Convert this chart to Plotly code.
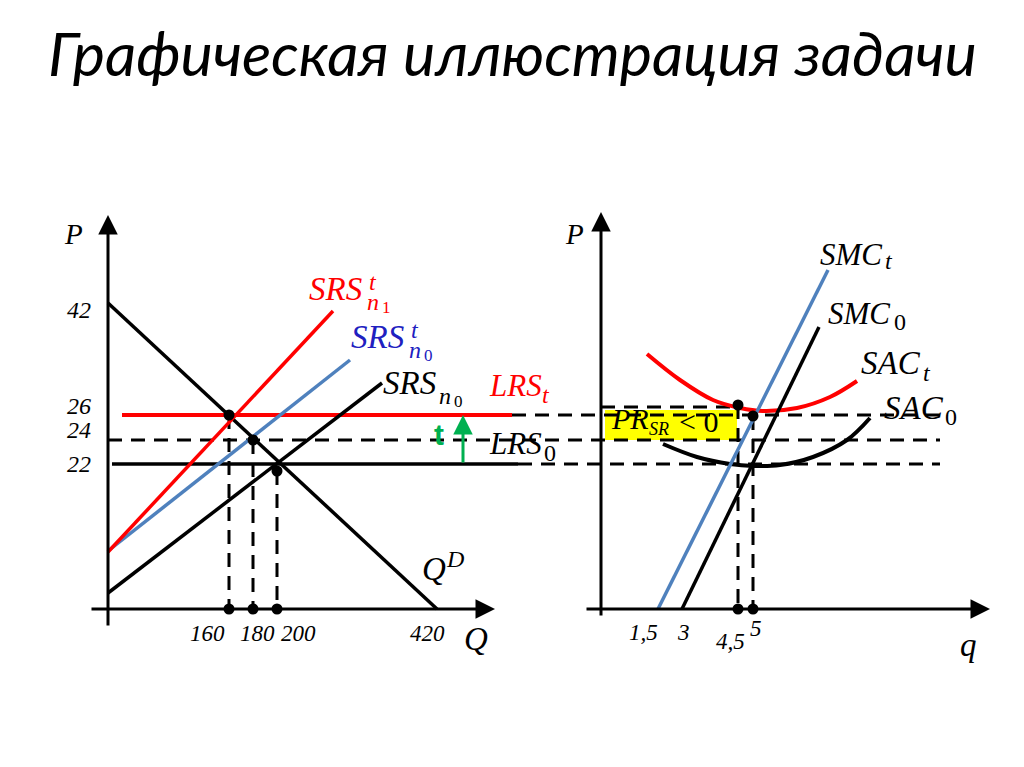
import plotly.graph_objects as go

# schematic diagram units: left panel origin at (0, 0), right panel origin at (R0, 0)
R0 = 493

# shared price axis
p_labels = ["42", "26", "24", "22"]
p_levels = [306, 194, 169, 145]
p_sac_min = 202

# left panel: industry
q_labels = ["160", "180", "200", "420"]
q_levels = [121, 145, 169, 329]
eq_dot_y = [194, 169, 138]

demand_x = [0, 329]
demand_y = [306, 0]
srs_n0_x = [0, 274]
srs_n0_y = [16, 226]
srs_t_n0_x = [0, 242]
srs_t_n0_y = [58, 249]
srs_t_n1_x = [0, 225]
srs_t_n1_y = [57, 298]
lrs_t_x = [14, 404]
lrs_0_x = [4, 410]

# right panel: firm (x relative to R0)
qf_labels = ["1,5", "3", "4,5", "5"]
qf_levels = [57, 81, 137, 152]
smc_t_x = [57, 227]
smc_t_y = [0, 339]
smc_0_x = [81, 218]
smc_0_y = [0, 282]
sac_t_x = [46, 79, 112, 139, 162, 196, 229, 256]
sac_t_y = [255, 229, 209, 201, 198, 201, 212, 228]
sac_0_x = [62, 96, 129, 152, 179, 212, 246, 269]
sac_0_y = [165, 152, 145, 143, 144, 152, 169, 191]
firm_dot_y = [204, 193]
dash_end = 339

RED = "#ff0000"
BLUE = "#4f81bd"
TXT_BLUE = "#2020c0"
GREEN = "#00b050"
DASH = "14px,9px"
SERIF = "Liberation Serif"
BASE = 33
SUB = 24
SUB2 = 17

fig = go.Figure()


def rx(xs):
    return [R0 + v for v in xs]


def line(x, y, color="black", width=3.5, dash=None, shape="linear"):
    fig.add_trace(go.Scatter(x=x, y=y, mode="lines", hoverinfo="skip",
                             line=dict(color=color, width=width, dash=dash, shape=shape)))


def dots(x, y):
    fig.add_trace(go.Scatter(x=x, y=y, mode="markers", hoverinfo="skip",
                             marker=dict(color="black", size=11)))


def arrow(x0, y0, x1, y1, color="black", width=3):
    fig.add_annotation(x=x1, y=y1, ax=x0, ay=y0, xref="x", yref="y", axref="x", ayref="y",
                       text="", showarrow=True, arrowhead=2, arrowsize=1.3,
                       arrowwidth=width, arrowcolor=color, standoff=0)


def text(x, y, s, size=BASE, color="black", anchor="left", family=SERIF):
    fig.add_annotation(x=x, y=y, text=s, showarrow=False, xanchor=anchor, yanchor="middle",
                       font=dict(family=family, size=size, color=color))


# yellow highlight of the short-run loss
fig.add_shape(type="rect", x0=R0 + 4, x1=R0 + qf_levels[2] - 1, y0=p_levels[2], y1=p_levels[1] + 5,
              fillcolor="#ffff00", line=dict(width=0), layer="below")

# dashed price levels running across both panels
line([lrs_t_x[1], R0 + dash_end], [p_levels[1]] * 2, width=3, dash=DASH)
line([0, R0 + dash_end], [p_levels[2]] * 2, width=3, dash=DASH)
line([lrs_0_x[1], R0 + dash_end], [p_levels[3]] * 2, width=3, dash=DASH)
line([R0, R0 + qf_levels[2]], [p_sac_min] * 2, width=3, dash=DASH)

# left panel
for q, y in zip(q_levels[:3], eq_dot_y):
    line([q, q], [y, 0], width=3, dash=DASH)
line(lrs_t_x, [p_levels[1]] * 2, color=RED, width=4)
line(lrs_0_x, [p_levels[3]] * 2, width=3.5)
line(demand_x, demand_y)
line(srs_n0_x, srs_n0_y)
line(srs_t_n0_x, srs_t_n0_y, color=BLUE)
line(srs_t_n1_x, srs_t_n1_y, color=RED)
dots(q_levels[:3] + q_levels[:3], eq_dot_y + [0, 0, 0])

# right panel
for q, y in zip(qf_levels[2:], firm_dot_y):
    line([R0 + q, R0 + q], [y, 0], width=3, dash=DASH)
line(rx(sac_t_x), sac_t_y, color=RED, width=4, shape="spline")
line(rx(sac_0_x), sac_0_y, width=4, shape="spline")
line(rx(smc_t_x), smc_t_y, color=BLUE)
line(rx(smc_0_x), smc_0_y)
dots(rx(qf_levels[2:]) * 2, firm_dot_y + [0, 0])

# axes
arrow(0, -18, 0, 394)
arrow(-18, 0, 387, 0)
arrow(R0, -8, R0, 397)
arrow(R0 - 16, 0, R0 + 389, 0)

# tax arrow
arrow(355, p_levels[3], 355, p_levels[1], color=GREEN, width=3)
text(331, 175, "<b>t</b>", size=30, color=GREEN, anchor="center", family="Liberation Sans")

# tick labels
for lab, y in zip(p_labels, [299, 203, 179, 145]):
    text(-15, y, "<i>%s</i>" % lab, size=24, anchor="right")
q_nudge = [(-2, "right"), (4, "center"), (2, "left"), (10, "right")]
for lab, q, (dx, anc) in zip(q_labels, q_levels, q_nudge):
    text(q + dx, -24, "<i>%s</i>" % lab, size=23, anchor=anc)
qf_nudge = [(2, "right", -23), (1, "center", -23), (9, "right", -32), (-5, "left", -19)]
for lab, q, (dx, anc, y) in zip(qf_labels, qf_levels, qf_nudge):
    text(R0 + q + dx, y, "<i>%s</i>" % lab, size=23, anchor=anc)

# axis names
text(-46, 375, "<i>P</i>", size=29)
text(354, -30, "<i>Q</i>", size=33)
text(R0 - 38, 375, "<i>P</i>", size=29)
text(R0 + 357, -36, "<i>q</i>", size=33)

# curve labels: base, superscript, subscript
text(199, 320, "<i>SRS</i>", color=RED)
text(259, 327, "<i>t</i>", size=SUB, color=RED)
text(257, 307, "<i>n</i>", size=SUB, color=RED)
text(272, 302, "1", size=SUB2, color=RED)
text(241, 272, "<i>SRS</i>", color=TXT_BLUE)
text(301, 279, "<i>t</i>", size=SUB, color=TXT_BLUE)
text(299, 259, "<i>n</i>", size=SUB, color=TXT_BLUE)
text(314, 254, "0", size=SUB2, color=TXT_BLUE)
text(273, 226, "<i>SRS</i>")
text(329, 213, "<i>n</i>", size=SUB)
text(344, 208, "0", size=SUB2)
text(379, 224, "<i>LRS</i>", size=31, color=RED)
text(432, 214, "<i>t</i>", size=SUB, color=RED)
text(379, 166, "<i>LRS</i>", size=31)
text(434, 156, "0", size=SUB)
text(312, 40, "<i>Q</i>")
text(336, 50, "<i>D</i>", size=SUB)

text(R0 + 217, 355, "<i>SMC</i>", size=31)
text(R0 + 282, 348, "<i>t</i>", size=SUB)
text(R0 + 225, 296, "<i>SMC</i>", size=31)
text(R0 + 291, 287, "0", size=SUB)
text(R0 + 258, 246, "<i>SAC</i>")
text(R0 + 320, 236, "<i>t</i>", size=SUB)
text(R0 + 281, 201, "<i>SAC</i>")
text(R0 + 342, 192, "0", size=SUB)
text(R0 + 8, 191, "<i>PR</i>", size=30)
text(R0 + 46, 180, "<i>SR</i>", size=18)
text(R0 + 76, 188, "&lt; 0", size=30)

# title
text(404, 557, "<i>Графическая иллюстрация задачи</i>", size=61, anchor="center", family="Lato")

fig.update_layout(
    width=1024, height=767, margin=dict(l=0, r=0, t=0, b=0),
    plot_bgcolor="white", paper_bgcolor="white", showlegend=False,
    xaxis=dict(range=[-108, 916], visible=False, fixedrange=True),
    yaxis=dict(range=[-158, 609], visible=False, fixedrange=True),
)

fig.write_html("out.html", config={"displayModeBar": False},
               post_script="document.body.style.margin='0';")
